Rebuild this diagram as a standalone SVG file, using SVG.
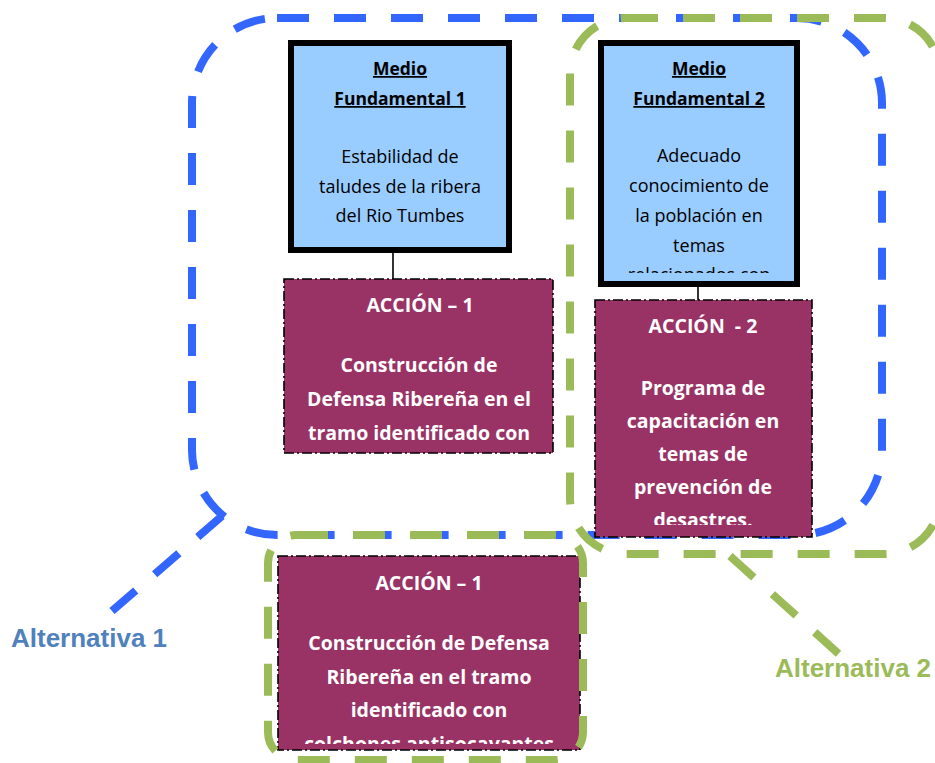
<svg xmlns="http://www.w3.org/2000/svg" width="935" height="763" viewBox="0 0 935 763">
<style>
.alt1{fill:none;stroke:#3366FF;stroke-width:8;stroke-dasharray:32 25}
.alt2{fill:none;stroke:#9BBB59;stroke-width:8;stroke-dasharray:32 25}
.medio{fill:#99CCFF;stroke:#000;stroke-width:6}
.accion{fill:#993366;stroke:#000;stroke-width:1.6;stroke-dasharray:10 3 2 3}
.conn{stroke:#000;stroke-width:1.6}
.t{font-family:"Open Sans","Liberation Sans",sans-serif;text-anchor:middle}
.ttl{font-size:17.5px;font-weight:bold;text-decoration:underline;fill:#000}
.body{font-size:18px;fill:#000}
.wb{font-size:19.5px;font-weight:bold;fill:#fff}
.lbl{font-family:"Liberation Sans",Arial,sans-serif;font-weight:bold;font-size:26px}
</style>
<defs>
<clipPath id="c-m2"><rect x="604" y="46" width="190" height="227"/></clipPath>
<clipPath id="c-a2"><rect x="596" y="301" width="215" height="224"/></clipPath>
<clipPath id="c-a3"><rect x="279" y="557" width="300" height="187"/></clipPath>
</defs>

<g id="alternativa-1">
<rect class="alt1" x="192" y="18" width="690" height="517" rx="85" ry="85"/>
<line class="alt1" x1="222" y1="516" x2="112" y2="611"/>
<text class="lbl" x="11" y="647" fill="#4F81BD">Alternativa 1</text>
</g>

<g id="connectors">
<line class="conn" x1="393" y1="253" x2="393" y2="280"/>
<line class="conn" x1="698" y1="287" x2="698" y2="301"/>
</g>

<g id="medio-fundamental-1">
<rect class="medio" x="291" y="43" width="218" height="207"/>
<text class="t ttl" x="400" y="75">Medio</text>
<text class="t ttl" x="400" y="105">Fundamental 1</text>
<text class="t body" x="400" y="163">Estabilidad de</text>
<text class="t body" x="400" y="193">taludes de la ribera</text>
<text class="t body" x="400" y="222">del Rio Tumbes</text>
</g>

<g id="medio-fundamental-2">
<rect class="medio" x="601" y="43" width="196" height="241"/>
<g clip-path="url(#c-m2)">
<text class="t ttl" x="699" y="75">Medio</text>
<text class="t ttl" x="699" y="105">Fundamental 2</text>
<text class="t body" x="699" y="162">Adecuado</text>
<text class="t body" x="699" y="192">conocimiento de</text>
<text class="t body" x="699" y="222">la población en</text>
<text class="t body" x="699" y="252">temas</text>
<text class="t body" x="699" y="281">relacionados con</text>
</g>
</g>

<g id="accion-1">
<rect class="accion" x="284" y="279" width="269" height="174"/>
<text class="t wb" x="420" y="312">ACCIÓN – 1</text>
<text class="t wb" x="419" y="372">Construcción de</text>
<text class="t wb" x="419" y="406">Defensa Ribereña en el</text>
<text class="t wb" x="419" y="440">tramo identificado con</text>
</g>

<g id="accion-2">
<rect class="accion" x="595" y="300" width="217" height="237"/>
<g clip-path="url(#c-a2)">
<text class="t wb" x="703" y="333" xml:space="preserve">ACCIÓN  - 2</text>
<text class="t wb" x="703" y="395">Programa de</text>
<text class="t wb" x="703" y="428">capacitación en</text>
<text class="t wb" x="703" y="461">temas de</text>
<text class="t wb" x="703" y="494">prevención de</text>
<text class="t wb" x="703" y="527">desastres.</text>
</g>
</g>

<g id="accion-1-alt2">
<rect class="accion" x="278" y="556" width="302" height="194"/>
<g clip-path="url(#c-a3)">
<text class="t wb" x="429" y="590">ACCIÓN – 1</text>
<text class="t wb" x="429" y="650">Construcción de Defensa</text>
<text class="t wb" x="429" y="684">Ribereña en el tramo</text>
<text class="t wb" x="429" y="717">identificado con</text>
<text class="t wb" x="429" y="751">colchones antisocavantes</text>
</g>
</g>

<g id="alternativa-2">
<rect class="alt2" x="570" y="18" width="370" height="536" rx="56" ry="56"/>
<rect class="alt2" x="268" y="535" width="315" height="225" rx="28" ry="28"/>
<line class="alt2" x1="730" y1="556" x2="840" y2="655"/>
<text class="lbl" x="775" y="677" fill="#9BBB59">Alternativa 2</text>
</g>
</svg>
